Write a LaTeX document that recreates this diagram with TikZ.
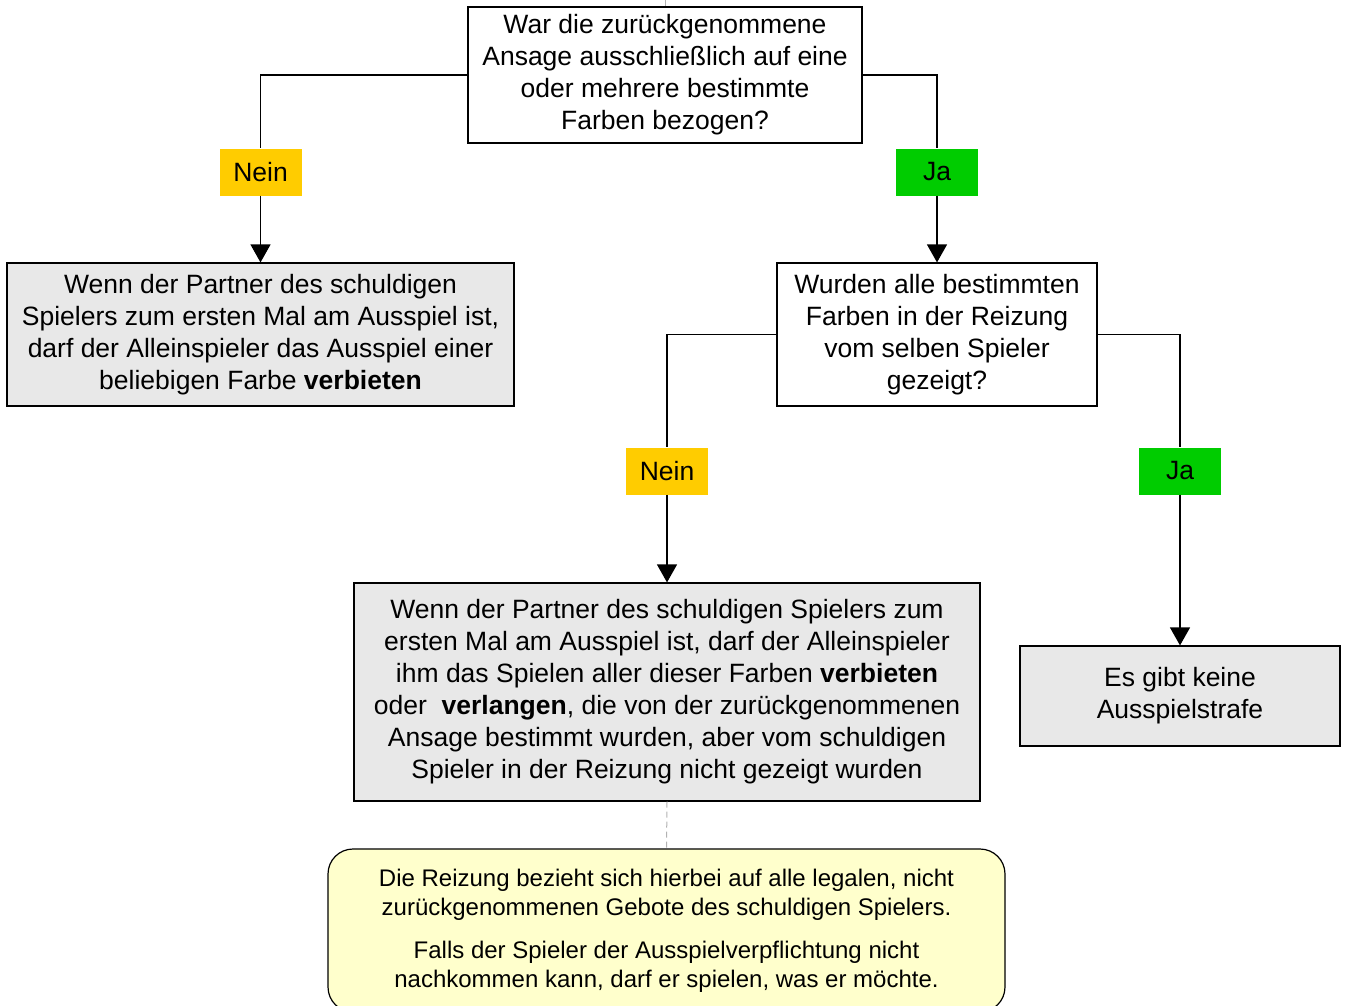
\documentclass[tikz,border=0pt]{standalone}
\usepackage{fontspec}
\setmainfont{Liberation Sans}
\usepackage{xcolor}
\usetikzlibrary{arrows.meta}
\definecolor{neinyellow}{RGB}{255, 204, 0}
\definecolor{jagreen}{RGB}{0, 204, 0}
\definecolor{resultgray}{RGB}{232, 232, 232}
\definecolor{noteyellow}{RGB}{255, 255, 204}

\begin{document}
\begin{tikzpicture}[x=1pt, y=1pt,
    question/.style={draw, line width=1.2pt, fill=white, align=center, inner sep=0pt,
        font=\fontsize{26.5}{32}\selectfont},
    result/.style={question, fill=resultgray},
    answer/.style={inner sep=0pt, minimum width=82pt, minimum height=47pt,
        font=\fontsize{26.5}{32}\selectfont},
    arr/.style={line width=1.2pt, -{Triangle[width=20pt, length=18pt]}},
    conn/.style={line width=1.2pt}]
    \useasboundingbox (0,0) rectangle (1346,-1005);

    % questions
    \node[question, minimum width=394pt, minimum height=136pt] (q1) at (665,-75) {
        War die zurückgenommene\\Ansage ausschließlich auf eine\\oder mehrere bestimmte\\Farben bezogen?};
    \node[question, minimum width=320pt, minimum height=143pt] (q2) at (937,-334.5) {
        Wurden alle bestimmten\\Farben in der Reizung\\vom selben Spieler\\gezeigt?};

    % results
    \node[result, minimum width=507pt, minimum height=143pt] (r1) at (260.5,-334.5) {
        Wenn der Partner des schuldigen\\Spielers zum ersten Mal am Ausspiel ist,\\darf der Alleinspieler das Ausspiel einer\\beliebigen Farbe \textbf{verbieten}};
    \node[result, minimum width=626pt, minimum height=218pt] (r2) at (667,-692) {
        Wenn der Partner des schuldigen Spielers zum\\ersten Mal am Ausspiel ist, darf der Alleinspieler\\ihm das Spielen aller dieser Farben \textbf{verbieten}\\oder\ \ \textbf{verlangen}, die von der zurückgenommenen\\Ansage bestimmt wurden, aber vom schuldigen\\Spieler in der Reizung nicht gezeigt wurden};
    \node[result, minimum width=320pt, minimum height=100pt] (r3) at (1180,-696) {
        Es gibt keine\\Ausspielstrafe};

    % answers
    \node[answer, fill=neinyellow] (nein1) at (260.5,-172) {Nein};
    \node[answer, fill=jagreen] (ja1) at (937,-172) {Ja};
    \node[answer, fill=neinyellow] (nein2) at (667,-471) {Nein};
    \node[answer, fill=jagreen] (ja2) at (1180,-471) {Ja};

    % note
    \node[draw, line width=1.2pt, fill=noteyellow, rounded corners=25pt, align=center,
        minimum width=677pt, minimum height=163pt, inner sep=0pt,
        font=\fontsize{24}{29}\selectfont] (note) at (666.5,-930.5) {
        Die Reizung bezieht sich hierbei auf alle legalen, nicht\\zurückgenommenen Gebote des schuldigen Spielers.\\[14pt]
        Falls der Spieler der Ausspielverpflichtung nicht\\nachkommen kann, darf er spielen, was er möchte.};

    % connectors
    \coordinate (top) at (665,0);
    \draw[gray!60, line width=1pt] (top) -- (q1.north);
    \draw[conn] (q1.west) -| (nein1.north);
    \draw[arr] (nein1.south) -- (r1.north);
    \draw[conn] (q1.east) -| (ja1.north);
    \draw[arr] (ja1.south) -- (q2.north);
    \draw[conn] (q2.west) -| (nein2.north);
    \draw[arr] (nein2.south) -- (r2.north);
    \draw[conn] (q2.east) -| (ja2.north);
    \draw[arr] (ja2.south) -- (r3.north);
    \draw[gray!60, line width=1pt, dash pattern=on 6pt off 4pt] (r2.south) -- (note.north);
\end{tikzpicture}
\end{document}
